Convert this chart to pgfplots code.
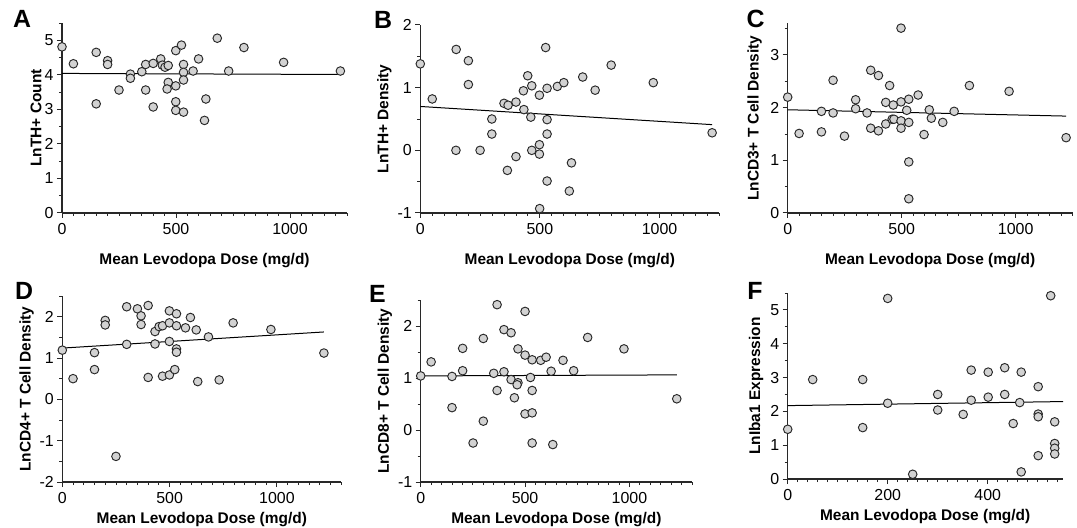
\documentclass[border=0pt]{standalone}
\usepackage{fontspec}
\setmainfont{Liberation Sans}
\usepackage{pgfplots}
\pgfplotsset{compat=1.18}
\definecolor{ptfill}{RGB}{210,210,210}
\definecolor{ptedge}{RGB}{40,40,40}
\definecolor{axc}{RGB}{40,40,40}
\pgfplotsset{
  panel/.style={
    scale only axis, anchor=south west, clip=false,
    axis x line*=bottom, axis y line*=left,
    tick align=outside,
    major tick length=5bp,
    axis line style={line width=1.1bp, color=axc},
    tick style={line width=1bp, color=axc},
    ticklabel style={font=\fontsize{16}{18}\selectfont, color=black},
    xticklabel style={yshift=-1.5bp},
    label style={font=\bfseries\fontsize{15.5}{17}\selectfont},
    /pgf/number format/assume math mode=true,
    /pgf/number format/1000 sep={},
    xlabel={Mean Levodopa Dose (mg/d)},
    extra x tick style={major tick length=3bp, tick style={line width=0.9bp, color=axc}},
    extra y tick style={major tick length=3bp, tick style={line width=0.9bp, color=axc}},
    extra x tick labels={}, extra y tick labels={},
  },
  toprow/.style={xlabel style={at={(axis description cs:0.5,0)}, anchor=center, yshift=-48bp}},
  botrow/.style={xlabel style={at={(axis description cs:0.5,0)}, anchor=center, yshift=-38bp}},
  yl/.style={ylabel style={at={(axis description cs:#1,0.5)}, anchor=center}},
  pts/.style={only marks, mark=*, mark size=4.3bp, mark options={fill=ptfill, draw=ptedge, line width=0.95bp}},
  fit/.style={no marks, line width=1bp, color=black},
}
\begin{document}
\begin{tikzpicture}
\useasboundingbox (0,0) rectangle (1077bp,528bp);
% ---------------- A
\begin{axis}[panel, toprow, yl=-0.0912, at={(62bp,315bp)}, width=285bp, height=190bp,
  xmin=0, xmax=1250, ymin=0, ymax=5.5,
  xtick={0,500,1000}, extra x ticks={50,100,...,450,550,600,...,950,1050,1100,...,1250},
  ytick={0,1,2,3,4,5}, extra y ticks={0.5,1.5,...,5.5},
  ylabel={LnTH+ Count}]
\addplot[fit] coordinates {(0,4.04) (1221,4.01)};
\addplot[pts] table {
x y
0 4.81
50 4.32
150 4.65
150 3.16
200 4.41
200 4.30
250 3.56
300 4.02
300 3.90
350 4.09
367 4.30
367 3.56
400 4.33
400 3.07
433 4.46
440 4.28
452 4.22
466 4.27
466 3.78
461 3.59
499 4.70
499 3.68
499 3.22
499 2.97
524 4.86
533 4.30
533 4.07
533 3.85
533 2.92
575 4.11
599 4.46
631 3.30
625 2.68
681 5.06
731 4.11
798 4.79
972 4.36
1221 4.11
};
\end{axis}
% ---------------- B
\begin{axis}[panel, toprow, yl=-0.120, at={(420.3bp,315bp)}, width=299bp, height=188bp,
  xmin=0, xmax=1250, ymin=-1, ymax=2,
  xtick={0,500,1000}, extra x ticks={50,100,...,450,550,600,...,950,1050,1100,...,1250},
  ytick={-1,0,1,2}, extra y ticks={-0.5,0.5,1.5},
  ylabel={LnTH+ Density}]
\addplot[fit] coordinates {(0,0.70) (1220,0.41)};
\addplot[pts] table {
x y
0 1.38
50 0.82
150 1.61
149 0.00
201 1.43
201 1.05
250 0.00
299 0.50
299 0.26
350 0.75
367 0.72
364 -0.32
400 0.77
400 -0.10
433 0.65
431 0.95
449 1.19
466 1.03
462 0.53
466 0.00
498 0.88
498 0.09
498 -0.06
499 -0.93
524 1.64
530 0.99
530 0.49
530 0.26
530 -0.49
573 1.02
600 1.08
632 -0.20
623 -0.65
679 1.17
731 0.96
798 1.36
974 1.08
1220 0.28
};
\end{axis}
% ---------------- C
\begin{axis}[panel, toprow, yl=-0.116, at={(787.7bp,315bp)}, width=285bp, height=189.6bp,
  xmin=0, xmax=1250, ymin=0, ymax=3.6,
  xtick={0,500,1000}, extra x ticks={50,100,...,450,550,600,...,950,1050,1100,...,1250},
  ytick={0,1,2,3}, extra y ticks={0.5,1.5,2.5,3.5},
  ylabel={LnCD3+ T Cell Density}]
\addplot[fit] coordinates {(0,1.96) (1221,1.84)};
\addplot[pts] table {
x y
0 2.20
50 1.51
148 1.93
148 1.54
199 2.52
199 1.90
249 1.46
298 2.15
298 1.98
348 1.90
364 2.71
364 1.61
398 2.61
398 1.56
430 2.10
430 1.69
447 2.42
463 2.05
458 1.78
466 1.78
497 3.51
497 2.11
497 1.75
497 1.61
522 1.95
531 2.16
531 1.72
531 0.97
531 0.27
572 2.24
598 1.49
621 1.96
630 1.80
680 1.72
730 1.93
797 2.42
971 2.31
1221 1.43
};
\end{axis}
% ---------------- D
\begin{axis}[panel, botrow, yl=-0.128, at={(62.3bp,46bp)}, width=279bp, height=186bp,
  xmin=0, xmax=1300, ymin=-2, ymax=2.5,
  xtick={0,500,1000}, extra x ticks={50,100,...,450,550,600,...,950,1050,1100,...,1300},
  ytick={-2,-1,0,1,2}, extra y ticks={-1.5,-0.5,...,2.5},
  ylabel={LnCD4+ T Cell Density}]
\addplot[fit] coordinates {(0,1.24) (1219,1.63)};
\addplot[pts] table {
x y
0 1.19
50 0.50
150 1.13
150 0.72
200 1.91
200 1.80
250 -1.38
300 2.24
300 1.33
350 2.19
367 2.02
367 1.81
400 2.27
400 0.53
432 1.64
432 1.34
451 1.76
467 1.78
467 0.56
499 2.14
499 1.85
499 1.40
499 0.59
524 0.72
532 2.07
532 1.78
532 1.22
532 1.14
574 1.73
597 1.98
624 1.68
631 0.43
681 1.51
731 0.47
796 1.85
972 1.69
1219 1.12
};
\end{axis}
% ---------------- E
\begin{axis}[panel, botrow, yl=-0.132, at={(420.7bp,46bp)}, width=271.3bp, height=182bp,
  xmin=0, xmax=1300, ymin=-1, ymax=2.5,
  xtick={0,500,1000}, extra x ticks={50,100,...,450,550,600,...,950,1050,1100,...,1300},
  ytick={-1,0,1,2}, extra y ticks={-0.5,0.5,...,2.5},
  ylabel={LnCD8+ T Cell Density}]
\addplot[fit] coordinates {(0,1.04) (1227,1.06)};
\addplot[pts] table {
x y
0 1.04
50 1.31
150 0.43
150 1.03
201 1.57
201 1.14
251 -0.25
300 1.76
300 0.17
350 1.09
366 2.41
366 0.76
399 1.93
399 1.12
433 1.87
433 0.97
449 0.62
466 1.56
466 0.91
462 0.87
500 2.28
500 1.44
500 0.31
526 1.01
534 1.35
534 0.76
534 0.33
534 -0.25
575 1.34
601 1.40
625 1.13
633 -0.28
682 1.34
733 1.14
800 1.78
974 1.56
1227 0.60
};
\end{axis}
% ---------------- F
\begin{axis}[panel, botrow, yl=-0.115, at={(787.7bp,49bp)}, width=275bp, height=186bp,
  xmin=0, xmax=550, ymin=0, ymax=5.5,
  xtick={0,200,400}, extra x ticks={20,40,...,180,220,240,...,380,420,440,...,540},
  ytick={0,1,2,3,4,5}, extra y ticks={0.5,1.5,...,5.5},
  ylabel={LnIba1 Expression}]
\addplot[fit] coordinates {(0,2.17) (551,2.29)};
\addplot[pts] table {
x y
0 1.47
50 2.94
150 2.94
150 1.52
200 5.34
200 2.24
250 0.14
300 2.50
300 2.04
351 1.91
367 3.22
367 2.33
401 3.16
401 2.42
434 3.29
434 2.50
451 1.64
464 2.26
467 3.16
467 0.21
501 2.73
501 1.92
501 1.84
501 0.69
526 5.42
534 1.69
534 1.05
534 0.91
534 0.74
};
\end{axis}
% panel letters
\node[font=\bfseries\fontsize{25}{28}\selectfont] at (22bp,509bp) {A};
\node[font=\bfseries\fontsize{25}{28}\selectfont] at (383bp,508bp) {B};
\node[font=\bfseries\fontsize{25}{28}\selectfont] at (755.5bp,509bp) {C};
\node[font=\bfseries\fontsize{25}{28}\selectfont] at (24bp,237bp) {D};
\node[font=\bfseries\fontsize{25}{28}\selectfont] at (377.5bp,234bp) {E};
\node[font=\bfseries\fontsize{25}{28}\selectfont] at (755bp,237bp) {F};
\end{tikzpicture}
\end{document}
